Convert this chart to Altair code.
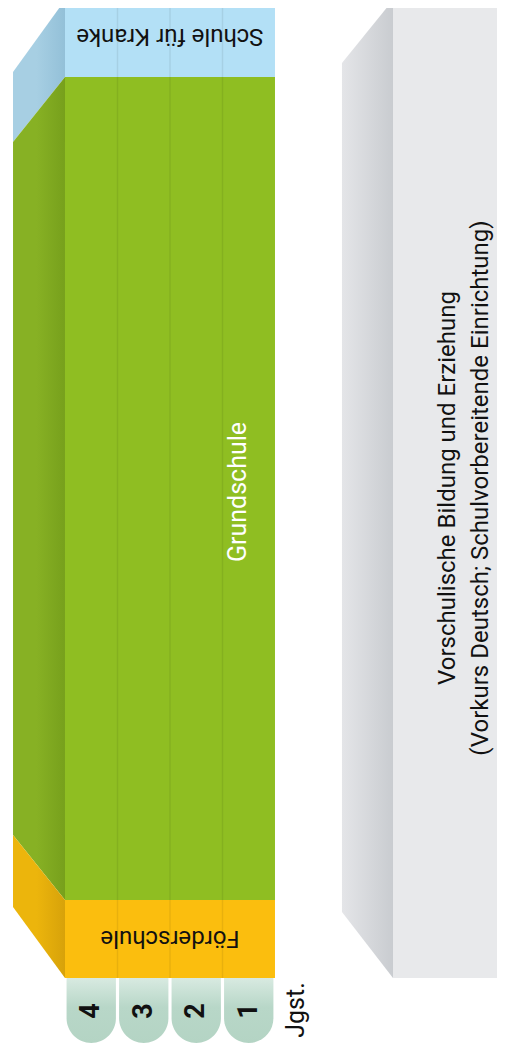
import altair as alt
import pandas as pd

# ---------------- data (diagram units) ----------------
# x axis = school year (Jahrgangsstufe); y axis = position along the track
grades = [1, 2, 3, 4]
grade_labels = ["1", "2", "3", "4"]
grade_bounds = [1.5, 2.5, 3.5]

bands = ["Schule für Kranke", "Grundschule", "Förderschule"]
band_front_top = [0, 77, 900]
band_front_bottom = [77, 900, 978]
band_back_top = [72, 142, 835]
band_back_bottom = [142, 835, 907]

front_first = 4.5     # first column edge (Jgst. 4)
front_last = 0.5      # last column edge (Jgst. 1)
back_edge = 5.49      # depth of the block

pre_front = -1.748
pre_back = -0.776
pre_far = -3.729
pre_front_top, pre_front_bottom = 0, 978
pre_back_top, pre_back_bottom = 63, 912

tab_top, tab_bottom = 978, 1043
jgst_pos = 0.1
label_y = [36, 492, 938]
pre_label_y = 488
pre_label_x = -2.8

FONT = "Roboto"

band_colors = ["#b3e0f6", "#8fbe22", "#fbbe0e"]
side_stops = [("#a7cfe3", "#93c0d8"), ("#87b124", "#77a01c"), ("#ecb50c", "#d7a20a")]

X = alt.Scale(domain=[pre_far, 5.738], reverse=True, nice=False, zero=False)
Y = alt.Scale(domain=[0, 1044], reverse=True, nice=False, zero=False)

def gx(field):
    return alt.X(field, type="quantitative", scale=X, axis=None)

def gy(field):
    return alt.Y(field, type="quantitative", scale=Y, axis=None)

layers = []

# pre-school block side face
pre_side = pd.DataFrame({"x": [pre_back, pre_front], "y": [pre_back_top, pre_front_top],
                         "y2": [pre_back_bottom, pre_front_bottom]})
layers.append(alt.Chart(pre_side).mark_area(
    color=alt.Gradient(gradient="linear", x1=0, x2=1, y1=0, y2=0,
                       stops=[alt.GradientStop(offset=0, color="#e4e5e8"),
                              alt.GradientStop(offset=1, color="#c9ccd0")])
).encode(x=gx("x"), y=gy("y"), y2="y2"))

# pre-school block front face
pre_front_df = pd.DataFrame({"x": [pre_front], "x2": [pre_far], "y": [pre_front_top], "y2": [pre_front_bottom]})
layers.append(alt.Chart(pre_front_df).mark_rect(color="#e8e9eb").encode(
    x=gx("x"), x2="x2", y=gy("y"), y2="y2"))

# band side faces
for i, b in enumerate(bands):
    df = pd.DataFrame({"x": [back_edge, front_first],
                       "y": [band_back_top[i], band_front_top[i]],
                       "y2": [band_back_bottom[i], band_front_bottom[i]]})
    layers.append(alt.Chart(df).mark_area(
        color=alt.Gradient(gradient="linear", x1=0, x2=1, y1=0, y2=0,
                           stops=[alt.GradientStop(offset=0, color=side_stops[i][0]),
                                  alt.GradientStop(offset=0.45, color=side_stops[i][0]),
                                  alt.GradientStop(offset=1, color=side_stops[i][1])])
    ).encode(x=gx("x"), y=gy("y"), y2="y2"))

# band front faces
front = pd.DataFrame({"band": bands, "top": band_front_top, "bottom": band_front_bottom,
                      "x": [front_first] * 3, "x2": [front_last] * 3})
layers.append(alt.Chart(front).mark_rect().encode(
    x=gx("x"), x2="x2", y=gy("top"), y2="bottom",
    color=alt.Color("band:N", scale=alt.Scale(domain=bands, range=band_colors), legend=None)))

# column dividers
div = pd.DataFrame({"g": grade_bounds, "y": [0] * 3, "y2": [978] * 3})
layers.append(alt.Chart(div).mark_rule(color="#000000", opacity=0.07, strokeWidth=1.5).encode(
    x=gx("g"), y=gy("y"), y2="y2"))

# Jgst tabs
tabs = pd.DataFrame({"g": grades, "label": grade_labels})
tabs["a"] = tabs["g"] - 0.47
tabs["b"] = tabs["g"] + 0.47
tabs["t"] = tab_top
tabs["u"] = tab_bottom
tabs["mid"] = 1011
layers.append(alt.Chart(tabs).mark_rect(
    cornerRadiusBottomLeft=25, cornerRadiusBottomRight=25,
    color=alt.Gradient(gradient="linear", x1=0, x2=0, y1=0, y2=1,
                       stops=[alt.GradientStop(offset=0, color="#d8eae1"),
                              alt.GradientStop(offset=0.45, color="#b8d7c8"),
                              alt.GradientStop(offset=1, color="#b4d4c4")])
).encode(x=gx("a"), x2="b", y=gy("t"), y2="u"))
layers.append(alt.Chart(tabs).mark_text(
    angle=270, font=FONT, fontSize=27, fontWeight="bold", color="#111111",
    align="center", baseline="middle"
).encode(x=gx("g"), y=gy("mid"), text="label:N"))

# Jgst. label
layers.append(alt.Chart(pd.DataFrame({"x": [jgst_pos], "y": [1010], "t": ["Jgst."]})).mark_text(
    angle=270, font=FONT, fontSize=25, color="#111111", align="center", baseline="middle"
).encode(x=gx("x"), y=gy("y"), text="t:N"))

# band labels
lab = pd.DataFrame({"band": bands, "y": label_y, "x": [2.5] * 3})
lab_flip = lab[lab["band"] != "Grundschule"]
layers.append(alt.Chart(lab_flip).mark_text(
    angle=180, font=FONT, fontSize=24, color="#111111", align="center", baseline="middle"
).encode(x=gx("x"), y=gy("y"), text="band:N"))
lab_g = pd.DataFrame({"band": ["Grundschule"], "y": [label_y[1]], "x": [1.2]})
layers.append(alt.Chart(lab_g).mark_text(
    angle=270, font=FONT, fontSize=25, color="#ffffff", align="center", baseline="middle"
).encode(x=gx("x"), y=gy("y"), text="band:N"))

# pre-school label
pre_lab = pd.DataFrame({"x": [pre_label_x], "y": [pre_label_y],
                        "t": [["Vorschulische Bildung und Erziehung",
                               "(Vorkurs Deutsch; Schulvorbereitende Einrichtung)"]]})
layers.append(alt.Chart(pre_lab).mark_text(
    angle=270, font=FONT, fontSize=24, lineHeight=33, color="#111111", align="center", baseline="middle"
).encode(x=gx("x"), y=gy("y"), text="t"))

chart = alt.layer(*layers).properties(
    width=497, height=1044,
    padding={"left": -8, "top": -8, "right": 0, "bottom": 0},
    autosize=alt.AutoSizeParams(type="none"),
).configure_view(stroke=None).configure(background="#ffffff")

chart.save("out.html", embed_options={"renderer": "svg", "actions": False})
